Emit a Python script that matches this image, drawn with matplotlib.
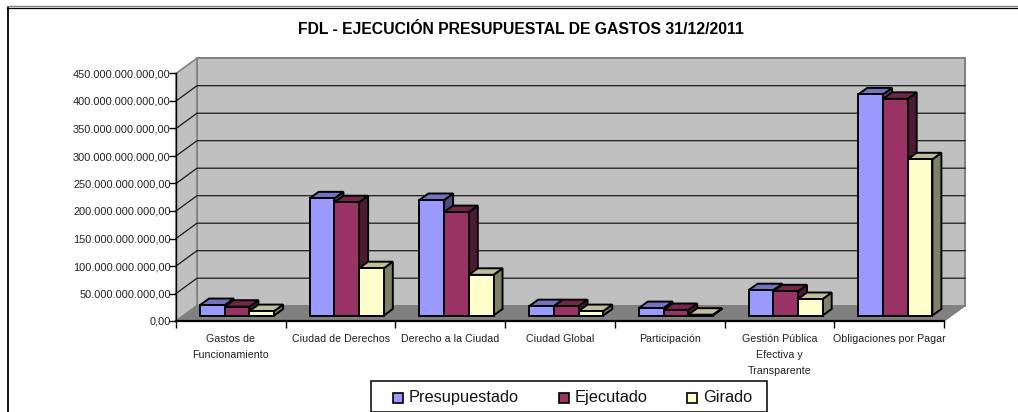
import matplotlib
matplotlib.use('Agg')
import matplotlib.pyplot as plt
from matplotlib.patches import Polygon, Rectangle
from matplotlib.ticker import FuncFormatter

plt.rcParams['font.family'] = ['Liberation Sans', 'DejaVu Sans']

#--------------- Datos ---------------------
categorias = ['Gastos de\nFuncionamiento', 'Ciudad de Derechos', 'Derecho a la Ciudad',
              'Ciudad Global', 'Participación',
              'Gestión Pública\nEfectiva y\nTransparente', 'Obligaciones por Pagar']
presupuestado = [19e9, 213e9, 210e9, 17e9, 13.5e9, 46e9, 402e9]
ejecutado = [16e9, 206e9, 188e9, 17e9, 10e9, 44e9, 394e9]
girado = [8e9, 86e9, 74e9, 8e9, 1.5e9, 30e9, 284e9]
series = ['Presupuestado', 'Ejecutado', 'Girado']
valores = [presupuestado, ejecutado, girado]
yticks = [v * 1e9 for v in range(0, 500, 50)]

colores = ['#9999ff', '#993366', '#ffffcc']
techos = ['#7373bf', '#732649', '#bfbf99']
lados = ['#4d4d80', '#4d1933', '#808066']

W, H = 1018, 412
fig = plt.figure(figsize=(W / 100, H / 100), dpi=100)

# marco de la figura (abierto por abajo y a la derecha)
fig.add_artist(plt.Line2D([7.5 / W, 7.5 / W], [0, 1 - 7 / H], color='black', lw=1.3))
fig.add_artist(plt.Line2D([7 / W, 1], [1 - 6 / H, 1 - 6 / H], color='#808080', lw=1))
fig.add_artist(plt.Line2D([7 / W, 1], [1 - 7.5 / H, 1 - 7.5 / H], color='black', lw=0.9))

ax = fig.add_axes([176 / W, 1 - 321 / H, 768 / W, 247.5 / H])
ax.set_xlim(0, 7)
ax.set_ylim(0, 450e9)
ax.patch.set_visible(False)
for s in ['top', 'right']:
    ax.spines[s].set_visible(False)
ax.spines['left'].set_linewidth(1.0)
ax.spines['bottom'].set_linewidth(1.6)

# escala: px a datos
px_x = 7 / 768
px_y = 450e9 / 247.5
dx = 21 * px_x
dy = 15.3 * px_y

# paredes y piso en perspectiva
ax.add_patch(Polygon([(dx, dy), (7 + dx, dy), (7 + dx, 450e9 + dy), (dx, 450e9 + dy)], closed=True,
                     fc='#c0c0c0', ec='#808080', lw=1.4, clip_on=False, zorder=1))
ax.add_patch(Polygon([(0, 0), (dx, dy), (dx, 450e9 + dy), (0, 450e9)], closed=True,
                     fc='#c0c0c0', ec='#808080', lw=1.2, clip_on=False, zorder=1))
ax.add_patch(Polygon([(0, 0), (7, 0), (7 + dx, dy), (dx, dy)], closed=True,
                     fc='#808080', ec='#808080', lw=1, clip_on=False, zorder=1))
for v in yticks[1:-1]:
    ax.plot([0, dx, 7 + dx], [v, v + dy, v + dy], color='#1a1a1a', lw=0.9, clip_on=False, zorder=2)

# barras 3D
ancho = 24.7 * px_x
inicio = 24 * px_x
off_y = 5.5 * px_y
bdx = 9 * px_x
bdy = 6.5 * px_y
for i in range(len(categorias)):
    for j, vals in enumerate(valores):
        x0 = i + inicio + j * ancho
        y0 = off_y
        y1 = off_y + vals[i]
        z = 5 + j
        ax.add_patch(Polygon([(x0 + ancho, y0), (x0 + ancho + bdx, y0 + bdy), (x0 + ancho + bdx, y1 + bdy), (x0 + ancho, y1)],
                             closed=True, fc=lados[j], ec='black', lw=1.4, clip_on=False, zorder=z))
        ax.add_patch(Polygon([(x0, y1), (x0 + bdx, y1 + bdy), (x0 + ancho + bdx, y1 + bdy), (x0 + ancho, y1)],
                             closed=True, fc=techos[j], ec='black', lw=1.4, clip_on=False, zorder=z))
        ax.add_patch(Rectangle((x0, y0), ancho, vals[i], fc=colores[j], ec='black', lw=1.4,
                               clip_on=False, zorder=z))

# ejes
ax.set_yticks(yticks)
ax.yaxis.set_major_formatter(FuncFormatter(lambda v, p: f'{v:,.2f}'.replace(',', '#').replace('.', ',').replace('#', '.')))
ax.tick_params(axis='y', labelsize=7.95, length=5, width=1, pad=-1.2, labelcolor='#222222')
ax.set_xticks(range(8))
ax.tick_params(axis='x', which='major', length=5, width=1, labelbottom=False)
for i, c in enumerate(categorias):
    ax.text(i + 0.5, -12.5 * px_y, c, ha='center', va='top', fontsize=7.65, color='#222222', linespacing=1.78,
            clip_on=False)

fig.text(521 / W, 1 - 30 / H, 'FDL - EJECUCIÓN PRESUPUESTAL DE GASTOS 31/12/2011', ha='center', va='center',
         fontsize=11.3, fontweight='bold', color='black')

# leyenda
fig.add_artist(Rectangle((371 / W, 0), 396 / W, 31.5 / H, transform=fig.transFigure, fc='white', ec='black', lw=1.1))
ley_x = [393, 559, 687]
for nombre, color, x in zip(series, colores, ley_x):
    fig.add_artist(Rectangle((x / W, 1 - 402.5 / H), 9.5 / W, 9.5 / H, transform=fig.transFigure, fc=color, ec='black', lw=1.2))
    fig.text((x + 16) / W, 1 - 397.5 / H, nombre, ha='left', va='center', fontsize=11.8, color='#111111')

fig.savefig('out.png', dpi=100)
